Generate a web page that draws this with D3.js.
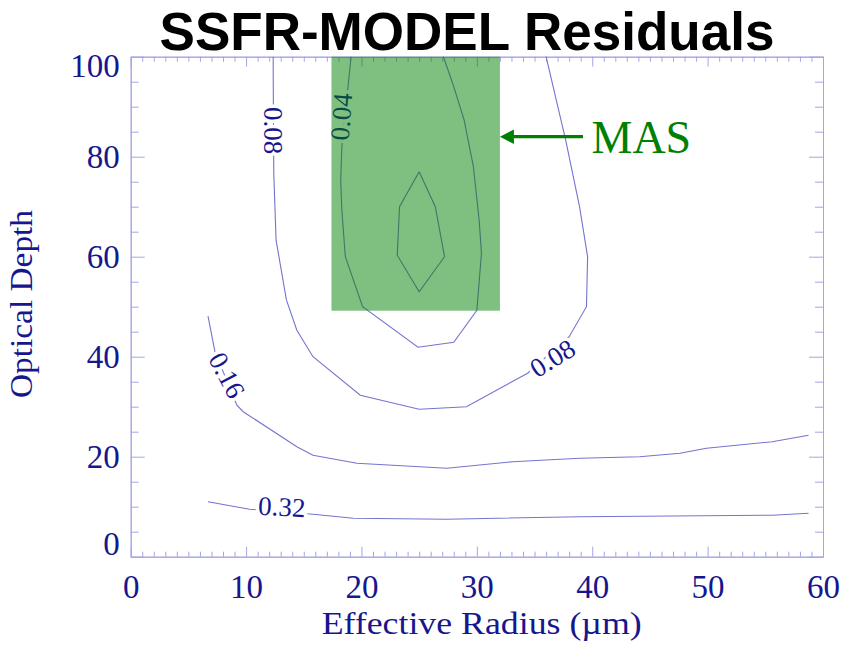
<!DOCTYPE html>
<html>
<head>
<meta charset="utf-8">
<script src="https://cdn.jsdelivr.net/npm/d3@7"></script>
<style>
  body { margin: 0; background: #fff; }
</style>
</head>
<body>
<svg id="chart" width="844" height="645"></svg>
<script>
// axis ticks
const xTicks = [0, 10, 20, 30, 40, 50, 60];
const yTicks = [0, 20, 40, 60, 80, 100];

// contour lines, [radius, optical depth]
const c002 = [[25.0,77],[26.4,70],[27.2,60],[25.0,53],[23.1,60.3],[23.3,70],[25.0,77]];
const c004 = [[19.1,100],[18.3,82],[18.2,75.3],[18.3,69.3],[18.6,60],[20.1,50],[24.9,41.9],
  [28.0,42.9],[30.0,49.3],[30.4,60.7],[30.2,67.3],[29.7,78],[28.9,87.3],[27.9,94.7],[27.1,100]];
const c008 = [[12.35,100],[12.35,96.7],[12.4,76.7],[12.6,63.3],[13.5,51.3],[14.4,45.3],[15.8,40],
  [19.9,32.3],[25.0,29.5],[29.1,30],[34.4,36.7],[38.0,44],[39.5,50],[39.6,60],[38.9,70],[37.7,83.3],[36.0,100]];
const c016 = [[6.7,48.1],[7.3,41],[9.2,30.3],[9.75,29],[14.4,22],[15.8,20.3],[19.6,18.7],[27.4,17.7],
  [33.1,19],[38.9,19.7],[44.1,20],[47.6,20.7],[49.9,21.7],[55.6,23],[58.75,24.3]];
const c032 = [[6.7,11],[10.3,9.5],[15.8,8.5],[19.3,7.7],[27.4,7.5],[38.9,8],[55.6,8.3],[58.75,8.7]];
const contourLines = [c002, c004, c008, c016, c032];

// contour labels: level and where it sits
const labelLevels = [0.04, 0.08, 0.08, 0.16, 0.32];
const labelAt = [[18.25,88.0],[12.36,85.2],[36.56,39.7],[8.34,36.3],[13.1,10.0]];

// MAS box [x0, x1, y0, y1] and arrow start
const masBox = [17.4, 32.0, 49.2, 100];
const masArrow = [[39.2, 84], [32.0, 84]];

const svg = d3.select("#chart");
const x = d3.scaleLinear().domain([0, 60]).range([130.7, 823]);
const y = d3.scaleLinear().domain([0, 100]).range([556.7, 56.7]);

const axisCol = "#a4a4e8", textCol = "#16168e", lineCol = "#7474d0";
const serif = "'Liberation Serif', 'Times New Roman', serif";

// title
svg.append("text").attr("x", 467).attr("y", 50)
  .attr("text-anchor", "middle")
  .style("font-family", "'Liberation Sans', Arial, sans-serif")
  .style("font-weight", "bold").style("font-size", "53px")
  .attr("textLength", 615).attr("lengthAdjust", "spacingAndGlyphs")
  .text("SSFR-MODEL Residuals");

// axes (ticks point inward like IDL)
const xMinor = d3.range(0, 61, 1).filter(v => v % 10);
const yMinor = d3.range(0, 101, 5).filter(v => v % 20);
const axes = svg.append("g");

function box(g) {
  g.selectAll(".domain, line").attr("stroke", axisCol).attr("stroke-width", 1);
}
axes.append("g").attr("transform", `translate(0,${y(0)})`)
  .call(d3.axisBottom(x).tickValues(xMinor).tickSize(-5).tickSizeOuter(0).tickFormat("")).call(box);
axes.append("g").attr("transform", `translate(0,${y(100)})`)
  .call(d3.axisTop(x).tickValues(xMinor).tickSize(-5).tickSizeOuter(0).tickFormat("")).call(box);
axes.append("g").attr("transform", `translate(0,${y(100)})`)
  .call(d3.axisTop(x).tickValues(xTicks).tickSize(-10).tickSizeOuter(0).tickFormat("")).call(box);
axes.append("g").attr("transform", `translate(${x(0)},0)`)
  .call(d3.axisLeft(y).tickValues(yMinor).tickSize(-8).tickSizeOuter(0).tickFormat("")).call(box);
axes.append("g").attr("transform", `translate(${x(60)},0)`)
  .call(d3.axisRight(y).tickValues(yMinor).tickSize(-8).tickSizeOuter(0).tickFormat("")).call(box);
axes.append("g").attr("transform", `translate(${x(60)},0)`)
  .call(d3.axisRight(y).tickValues(yTicks).tickSize(-14).tickSizeOuter(0).tickFormat("")).call(box);

const gx = axes.append("g").attr("transform", `translate(0,${y(0)})`)
  .call(d3.axisBottom(x).tickValues(xTicks).tickSize(-10).tickSizeOuter(0)).call(box);
gx.selectAll("text").attr("y", 41).attr("dy", 0);
const gy = axes.append("g").attr("transform", `translate(${x(0)},0)`)
  .call(d3.axisLeft(y).tickValues(yTicks).tickSize(-14).tickSizeOuter(0).tickPadding(11)).call(box);
gy.selectAll("text").attr("dy", d => d === 100 ? 20 : d === 0 ? -2 : 11);

axes.selectAll("text").attr("fill", textCol)
  .style("font-family", serif).style("font-size", "33px");

// axis titles
svg.append("text").attr("x", 481.7).attr("y", 634).attr("text-anchor", "middle")
  .attr("fill", textCol).style("font-family", serif).style("font-size", "32px")
  .attr("textLength", 320).attr("lengthAdjust", "spacingAndGlyphs")
  .text("Effective Radius (\u00b5m)");
svg.append("text").attr("transform", "translate(32,304) rotate(-90)").attr("text-anchor", "middle")
  .attr("fill", textCol).style("font-family", serif).style("font-size", "32px")
  .attr("textLength", 188).attr("lengthAdjust", "spacingAndGlyphs")
  .text("Optical Depth");

// contours
const line = d3.line().x(d => x(d[0])).y(d => y(d[1]));
svg.append("g").selectAll("path").data(contourLines).enter().append("path")
  .attr("d", line).attr("fill", "none").attr("stroke", lineCol).attr("stroke-width", 1.1);

const labelRotate = [-86, 90, -32, 62, 3];
svg.append("g").selectAll("text").data(labelAt).enter().append("text")
  .attr("transform", (d, i) => `translate(${x(d[0])},${y(d[1])}) rotate(${labelRotate[i]})`)
  .attr("text-anchor", "middle").attr("dy", "0.34em")
  .attr("fill", textCol).attr("stroke", "#fff").attr("stroke-width", 7)
  .attr("paint-order", "stroke")
  .style("font-family", serif).style("font-size", "27px")
  .text((d, i) => d3.format(".2f")(labelLevels[i]));

// MAS box over the contours
svg.append("rect")
  .attr("x", x(masBox[0])).attr("y", y(masBox[3]))
  .attr("width", x(masBox[1]) - x(masBox[0])).attr("height", y(masBox[2]) - y(masBox[3]))
  .attr("fill", "#008000").attr("fill-opacity", 0.5);

// arrow + label
const ax0 = x(masArrow[0][0]), ax1 = x(masArrow[1][0]), ay = y(masArrow[0][1]);
svg.append("line").attr("x1", ax0).attr("x2", ax1 + 12).attr("y1", ay).attr("y2", ay)
  .attr("stroke", "#008000").attr("stroke-width", 3.2);
svg.append("path")
  .attr("d", `M${ax1},${ay} L${ax1 + 14},${ay - 7.3} L${ax1 + 14},${ay + 7.3} Z`)
  .attr("fill", "#008000");
svg.append("text").attr("x", ax0 + 8.5).attr("y", 153.3)
  .attr("fill", "#008000").style("font-family", serif).style("font-size", "46px")
  .text("MAS");
</script>
</body>
</html>
